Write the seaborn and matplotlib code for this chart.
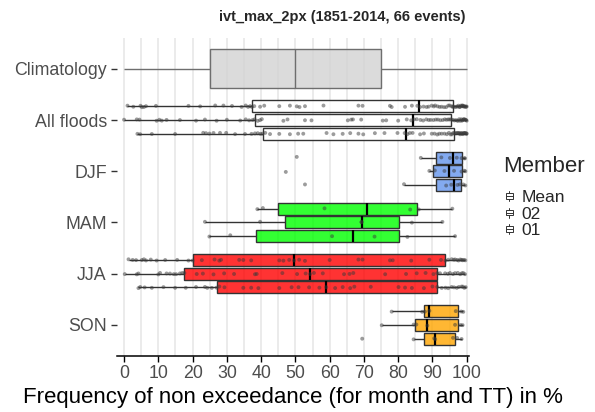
import numpy as np
import pandas as pd
import matplotlib
matplotlib.use("Agg")
import matplotlib.pyplot as plt
import seaborn as sns
from matplotlib.legend_handler import HandlerBase
from matplotlib.patches import Rectangle
from matplotlib.lines import Line2D

# categories (top to bottom) and members (top to bottom inside each category)
categories = ["Climatology", "All floods", "DJF", "MAM", "JJA", "SON"]
members = ["Mean", "02", "01"]
fill_colors = {"Climatology": "lightgrey", "All floods": "white", "DJF": "cornflowerblue",
               "MAM": "#00ff00", "JJA": "red", "SON": "orange"}

climatology = [0, 25, 50, 75, 100]

all_floods = {
    "Mean": [1.0, 2.7, 4.8, 5.2, 5.8, 6.4, 9.3, 18.8, 22.2, 26.6, 29.0, 31.5, 34.3, 35.5, 36.2, 36.8, 37.3,
             38.0, 39.7, 40.9, 45.3, 48.4, 50.4, 51.2, 52.8, 58.2, 68.4, 69.6, 77.6, 78.1, 82.0, 84.0, 85.6,
             86.4, 87.4, 88.3, 88.9, 89.8, 90.4, 90.8, 91.5, 92.1, 92.7, 93.4, 94.0, 94.6, 95.0, 95.6, 95.9,
             96.1, 96.6, 97.0, 97.3, 97.6, 97.9, 98.0, 98.3, 98.5, 98.7, 98.9, 99.0, 99.2, 99.4, 99.6, 99.8, 100.0],
    "02": [0.0, 3.7, 4.5, 9.5, 10.3, 11.0, 12.4, 16.3, 21.0, 23.6, 27.0, 30.0, 33.9, 35.5, 36.5, 37.5, 38.1,
           39.0, 39.7, 40.2, 46.5, 47.7, 52.8, 54.7, 65.3, 66.3, 66.8, 69.2, 75.5, 76.5, 80.0, 82.5, 83.8,
           84.6, 85.4, 86.5, 87.3, 88.2, 88.9, 89.5, 90.3, 91.0, 91.6, 92.3, 93.0, 93.6, 94.1, 94.6, 95.0,
           95.4, 95.9, 96.4, 96.8, 97.2, 97.5, 97.8, 98.1, 98.4, 98.6, 98.8, 99.0, 99.2, 99.4, 99.6, 99.8, 100.0],
    "01": [3.9, 4.7, 8.1, 14.9, 23.1, 23.9, 24.9, 26.1, 28.0, 29.8, 32.4, 35.3, 37.2, 38.2, 39.0, 39.8, 40.4,
           41.2, 42.6, 45.3, 48.4, 50.8, 52.3, 59.1, 61.1, 63.8, 66.0, 68.4, 69.8, 73.2, 76.0, 79.8, 81.9,
           82.7, 83.4, 84.2, 86.4, 87.5, 89.8, 90.6, 91.4, 92.0, 92.7, 93.5, 94.2, 94.8, 95.3, 95.7, 96.0,
           96.4, 96.8, 97.1, 97.4, 97.7, 97.9, 98.1, 98.3, 98.5, 98.7, 98.9, 99.1, 99.3, 99.5, 99.7, 99.9, 100.0],
}

djf = {
    "Mean": [50.4, 86.6, 92.6, 95.1, 97.1, 98.5, 99.3, 99.5],
    "02": [47.2, 89.1, 90.7, 93.5, 96.3, 98.5, 99.3, 99.6],
    "01": [52.8, 81.7, 94.0, 95.5, 97.3, 98.0, 99.0, 99.6],
}

mam = {
    "Mean": [38.9, 40.5, 58.5, 83.5, 86.0, 95.8],
    "02": [23.6, 39.7, 69.3, 69.3, 84.0, 92.9],
    "01": [24.9, 31.0, 60.7, 73.1, 82.7, 96.6],
}

jja = {
    "Mean": [1.3, 2.5, 3.5, 5.2, 5.8, 6.4, 7.8, 9.5, 12.0, 15.5, 18.8, 20.0,
             22.7, 26.4, 27.8, 28.3, 33.6, 34.8, 37.1, 45.3, 46.5, 48.2, 49.6,
             51.1, 52.8, 60.0, 68.4, 69.6, 77.6, 78.4, 83.8, 89.1, 92.5, 93.8,
             94.6, 95.6, 96.2, 96.6, 97.2, 97.6, 98.1, 98.5, 98.8, 99.2, 99.6],
    "02": [0.2, 3.7, 4.2, 10.0, 10.5, 12.4, 13.4, 14.5, 15.2, 16.3, 17.0, 17.6,
           21.2, 23.0, 26.1, 29.2, 32.1, 38.2, 38.7, 46.2, 50.5, 53.0, 54.3,
           55.4, 58.0, 64.2, 65.8, 66.9, 76.2, 82.3, 85.4, 88.0, 90.3, 91.4,
           92.2, 93.7, 94.5, 95.1, 96.0, 96.6, 97.4, 98.1, 98.6, 99.0, 99.5],
    "01": [4.2, 4.7, 6.0, 8.1, 11.5, 14.9, 18.0, 21.0, 23.6, 24.3, 25.6, 27.0,
           27.8, 29.3, 34.8, 37.1, 39.2, 45.3, 48.9, 50.9, 54.0, 57.0, 59.0,
           61.6, 63.8, 66.0, 67.2, 72.0, 80.1, 82.0, 84.0, 87.5, 90.0, 91.4,
           92.7, 93.8, 94.6, 95.6, 96.3, 97.1, 97.7, 98.5, 98.9, 99.3, 99.7],
}

son = {
    "Mean": [78.1, 87.0, 87.8, 89.1, 96.8, 98.4, 99.0],
    "02": [75.2, 84.5, 85.3, 88.5, 96.6, 98.2, 98.8],
    "01": [69.5, 84.5, 90.5, 90.8, 96.0, 97.2, 98.5],
}

season_data = {"All floods": all_floods, "DJF": djf, "MAM": mam, "JJA": jja, "SON": son}

rows = []
for cat, groups in season_data.items():
    for mem, vals in groups.items():
        for v in vals:
            rows.append((cat, mem, v))
df = pd.DataFrame(rows, columns=["category", "member", "value"])
clim_df = pd.DataFrame({"category": "Climatology", "value": climatology})

sns.set_style("white")
plt.rcParams["font.family"] = ["Liberation Sans", "DejaVu Sans"]

fig = plt.figure(figsize=(5.95, 4.12), dpi=100)
ax = fig.add_axes([0.197, 0.1367, 0.592, 0.771])


def soften(n_before, alpha=0.8):
    # ggplot-style semi transparent fills
    for p in ax.patches[n_before:]:
        fc = p.get_facecolor()
        p.set_facecolor((fc[0], fc[1], fc[2], alpha))


n0 = len(ax.patches)
sns.boxplot(data=clim_df, x="value", y="category", order=categories, color=fill_colors["Climatology"],
            width=0.76, saturation=1, linecolor="#6e6e6e", linewidth=1.0, showfliers=False,
            capprops=dict(linewidth=0), ax=ax)
soften(n0)

for cat in categories[1:]:
    sub = df[df["category"] == cat]
    n0 = len(ax.patches)
    sns.boxplot(data=sub, x="value", y="category", hue="member", order=categories, hue_order=members,
                palette=[fill_colors[cat]] * 3, width=0.8, gap=0.12, dodge=True, saturation=1,
                showfliers=False, linecolor="#333333", linewidth=1.0,
                medianprops=dict(color="black", linewidth=1.6), capprops=dict(linewidth=0),
                legend=False, ax=ax)
    soften(n0)

sns.stripplot(data=df, x="value", y="category", hue="member", order=categories, hue_order=members,
              dodge=True, jitter=0.05, size=2.8, palette=["#3a3a3a"] * 3, alpha=0.5, linewidth=0,
              legend=False, ax=ax)

ax.set_xlim(-2, 100.8)
ax.set_ylim(5.6, -0.6)
ax.set_xticks(np.arange(0, 101, 10))
ax.set_xticks(np.arange(0, 101, 5), minor=True)
ax.grid(axis="x", which="both", color="#e6e6e6", linewidth=1.15)
ax.grid(axis="y", visible=False)
ax.set_axisbelow(True)
for s in ["top", "right", "left"]:
    ax.spines[s].set_visible(False)
ax.spines["bottom"].set_color("black")
ax.spines["bottom"].set_linewidth(1.1)
ax.tick_params(axis="x", which="major", length=4, width=1, color="black", labelsize=12.8,
               labelcolor="#4d4d4d", pad=3, bottom=True)
ax.tick_params(axis="x", which="minor", length=0)
ax.tick_params(axis="y", length=4, width=1, color="#333333", labelsize=12.8, labelcolor="#4d4d4d",
               pad=3.5, left=True)
ax.set_ylabel("")
ax.set_xlabel("Frequency of non exceedance (for month and TT) in %", fontsize=16, color="black",
              labelpad=3)
fig.text(342 / 595, 1 - 17 / 412, "ivt_max_2px (1851-2014, 66 events)", ha="center", va="center",
         fontsize=10.5, fontweight="bold")


class KeyHandle:
    pass


class BoxKey(HandlerBase):
    def create_artists(self, legend, orig_handle, xdescent, ydescent, width, height, fontsize, trans):
        cx = width / 2 - xdescent
        cy = height / 2 - ydescent
        bw, bh, wl = 5.0, 4.0, 1.6
        box = Rectangle((cx - bw / 2, cy - bh / 2), bw, bh, facecolor="white", edgecolor="#333333",
                        linewidth=0.7, transform=trans)
        med = Line2D([cx - bw / 2, cx + bw / 2], [cy, cy], color="#333333", linewidth=0.7, transform=trans)
        wt = Line2D([cx, cx], [cy + bh / 2, cy + bh / 2 + wl], color="#333333", linewidth=0.7, transform=trans)
        wb = Line2D([cx, cx], [cy - bh / 2, cy - bh / 2 - wl], color="#333333", linewidth=0.7, transform=trans)
        return [box, med, wt, wb]


fig.text(503 / 595, 1 - 167 / 412, "Member", ha="left", va="center", fontsize=16)
handles = [KeyHandle() for _ in members]
leg = fig.legend(handles, members, handler_map={KeyHandle: BoxKey()}, loc="upper left",
                 bbox_to_anchor=(503 / 595, 1 - 190 / 412), frameon=False, fontsize=12.5,
                 handlelength=0.7, handletextpad=0.35, labelspacing=0.08, borderpad=0,
                 borderaxespad=0)

fig.savefig("out.png", dpi=100)
